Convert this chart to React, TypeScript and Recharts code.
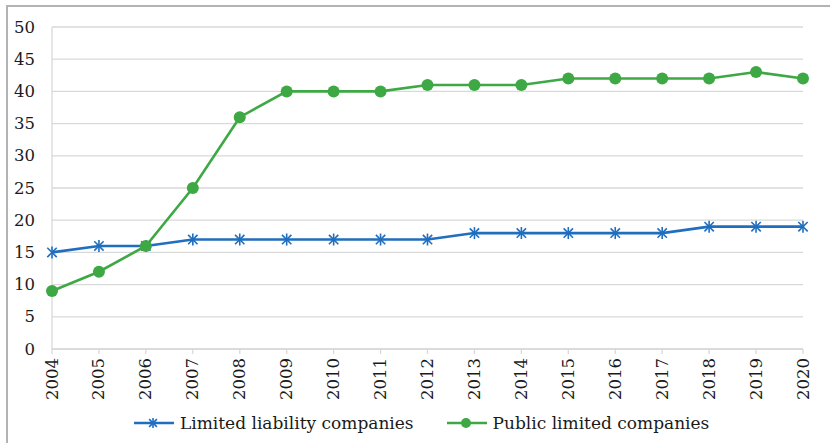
import { LineChart, Line, XAxis, YAxis, CartesianGrid } from "recharts";

const years = ["2004", "2005", "2006", "2007", "2008", "2009", "2010", "2011", "2012", "2013", "2014", "2015", "2016", "2017", "2018", "2019", "2020"];
const limitedLiability = [15, 16, 16, 17, 17, 17, 17, 17, 17, 18, 18, 18, 18, 18, 19, 19, 19];
const publicLimited = [9, 12, 16, 25, 36, 40, 40, 40, 41, 41, 41, 42, 42, 42, 42, 43, 42];
const yTicks = [0, 5, 10, 15, 20, 25, 30, 35, 40, 45, 50];

const BLUE = "#1f6ebf";
const GREEN = "#3ea845";
const GRID = "#d9d9d9";
const FONT = "DejaVu Serif";
const TEXT = "#1a1a1a";

const data = years.map((year, i) => ({ year, llc: limitedLiability[i], plc: publicLimited[i] }));

function Star({ cx, cy, color, s = 6 }: { cx: number; cy: number; color: string; s?: number }) {
  const d = s * 0.78;
  return (
    <g stroke={color} strokeWidth={1.6} fill="none">
      <line x1={cx} y1={cy - s} x2={cx} y2={cy + s} />
      <line x1={cx - d} y1={cy - d} x2={cx + d} y2={cy + d} />
      <line x1={cx - d} y1={cy + d} x2={cx + d} y2={cy - d} />
    </g>
  );
}

const StarDot = (props: any) => {
  const { cx, cy, index } = props;
  if (cx == null || cy == null) return null;
  return <Star key={index} cx={cx} cy={cy} color={BLUE} />;
};

const XTick = ({ x, y, payload }: any) => (
  <text x={x} y={y} transform={`rotate(-90, ${x}, ${y})`} textAnchor="end" dominantBaseline="central" fontSize={16.5} style={{ fontFamily: FONT }} fill={TEXT}>
    {payload.value}
  </text>
);

const YTick = ({ x, y, payload }: any) => (
  <text x={x} y={y} textAnchor="end" dominantBaseline="central" fontSize={16.5} style={{ fontFamily: FONT }} fill={TEXT}>
    {payload.value}
  </text>
);

export default function App() {
  return (
    <div style={{ position: "absolute", left: 0, top: 0, width: 830, height: 443, background: "#fff", overflow: "hidden" }}>
      <div style={{ position: "absolute", left: 6, top: 5, right: 0, bottom: 0, borderLeft: "2px solid #b3b3b3", borderTop: "2px solid #b3b3b3" }} />
      <LineChart width={830} height={443} data={data} margin={{ top: 27, right: 27, left: 0, bottom: 0 }}>
        <CartesianGrid vertical={false} stroke={GRID} strokeWidth={1.3} />
        <XAxis dataKey="year" height={94} tick={<XTick />} tickSize={5} tickMargin={4} interval={0} axisLine={{ stroke: GRID, strokeWidth: 1.3 }} tickLine={{ stroke: GRID, strokeWidth: 1.3 }} />
        <YAxis width={52} domain={[0, 50]} ticks={yTicks} tick={<YTick />} tickSize={0} tickMargin={17} axisLine={{ stroke: GRID, strokeWidth: 1.3 }} tickLine={false} />
        <Line dataKey="llc" stroke={BLUE} strokeWidth={2.6} dot={<StarDot />} isAnimationActive={false} />
        <Line dataKey="plc" stroke={GREEN} strokeWidth={2.6} dot={{ r: 6, fill: GREEN, stroke: GREEN, strokeWidth: 0 }} isAnimationActive={false} />
      </LineChart>
      <div style={{ position: "absolute", left: 134, top: 410, height: 26, display: "flex", alignItems: "center", fontFamily: FONT, fontSize: 17, color: TEXT }}>
        <svg width={40} height={16} style={{ marginRight: 6 }}>
          <line x1={0} y1={8} x2={40} y2={8} stroke={BLUE} strokeWidth={2.6} />
          <Star cx={19} cy={8} color={BLUE} s={5} />
        </svg>
        <span>Limited liability companies</span>
        <svg width={40} height={16} style={{ marginLeft: 33, marginRight: 6 }}>
          <line x1={0} y1={8} x2={40} y2={8} stroke={GREEN} strokeWidth={2.6} />
          <circle cx={19} cy={8} r={5} fill={GREEN} />
        </svg>
        <span>Public limited companies</span>
      </div>
    </div>
  );
}
